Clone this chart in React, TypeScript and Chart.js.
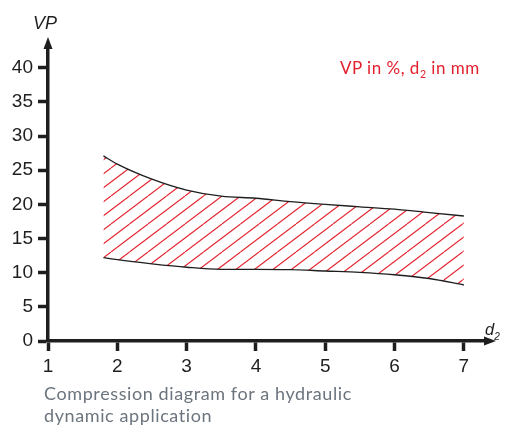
import React, { useEffect, useRef } from "react";
import { Chart, registerables } from "chart.js";

Chart.register(...registerables);

// Nozzle diameter d2 (mm) and compression VP (%) bounds
const diameters = [1.8, 2, 2.5, 3, 3.5, 4, 4.5, 5, 5.5, 6, 6.5, 7];
const upperVP = [27.1, 25.9, 23.7, 22.1, 21.2, 20.9, 20.4, 20.0, 19.65, 19.3, 18.8, 18.3];
const lowerVP = [12.2, 11.9, 11.3, 10.8, 10.5, 10.5, 10.45, 10.25, 10.05, 9.7, 9.15, 8.2];
const xTickValues = [1, 2, 3, 4, 5, 6, 7];
const yTickValues = [0, 5, 10, 15, 20, 25, 30, 35, 40];

const AXIS = "#1e1e1e";
const RED = "#e3202d";

function makeHatch(ctx: CanvasRenderingContext2D) {
  const W = 37;
  const H = 28;
  const tile = document.createElement("canvas");
  tile.width = W;
  tile.height = H;
  const g = tile.getContext("2d")!;
  g.strokeStyle = RED;
  g.lineWidth = 1.1;
  for (const x0 of [-37, -18.5, 0, 18.5, 37]) {
    g.beginPath();
    g.moveTo(x0, H);
    g.lineTo(x0 + W, 0);
    g.stroke();
  }
  return ctx.createPattern(tile, "repeat");
}

const arrowPlugin = {
  id: "axisArrows",
  afterDraw(chart: any) {
    const { ctx, chartArea: a } = chart;
    ctx.save();
    ctx.fillStyle = AXIS;
    ctx.beginPath();
    ctx.moveTo(a.left, a.top - 11);
    ctx.lineTo(a.left - 4.5, a.top + 1);
    ctx.lineTo(a.left + 4.5, a.top + 1);
    ctx.closePath();
    ctx.fill();
    ctx.beginPath();
    ctx.moveTo(a.right + 10, a.bottom);
    ctx.lineTo(a.right - 2, a.bottom - 4.5);
    ctx.lineTo(a.right - 2, a.bottom + 4.5);
    ctx.closePath();
    ctx.fill();
    ctx.restore();
  },
};

export default function App() {
  const ref = useRef<HTMLCanvasElement | null>(null);

  useEffect(() => {
    const canvas = ref.current!;
    const ctx = canvas.getContext("2d")!;
    const hatch = makeHatch(ctx);
    const tickFont = { family: "'Liberation Sans', Arial, sans-serif", size: 19 };
    const chart = new Chart(canvas, {
      type: "line",
      data: {
        datasets: [
          {
            label: "lower",
            data: diameters.map((d, i) => ({ x: d, y: lowerVP[i] })),
            borderColor: AXIS,
            borderWidth: 1.3,
            pointRadius: 0,
            cubicInterpolationMode: "monotone",
            fill: false,
          },
          {
            label: "upper",
            data: diameters.map((d, i) => ({ x: d, y: upperVP[i] })),
            borderColor: AXIS,
            borderWidth: 1.3,
            pointRadius: 0,
            cubicInterpolationMode: "monotone",
            fill: "-1",
            backgroundColor: hatch as any,
          },
        ],
      },
      options: {
        responsive: false,
        animation: false,
        layout: { padding: { top: 48, right: 25, left: 0, bottom: 0 } },
        plugins: { legend: { display: false }, tooltip: { enabled: false } },
        scales: {
          x: {
            type: "linear",
            min: 1,
            max: 7.32,
            afterBuildTicks: (s: any) => {
              s.ticks = xTickValues.map((v) => ({ value: v }));
            },
            afterFit: (s: any) => {
              s.height = 86;
            },
            ticks: { color: AXIS, font: tickFont, padding: 4, maxRotation: 0, autoSkip: false },
            grid: {
              display: true,
              drawOnChartArea: false,
              drawTicks: true,
              tickLength: 10,
              tickWidth: 3.5,
              tickColor: AXIS,
            },
            border: { display: true, color: AXIS, width: 3.5 },
          },
          y: {
            type: "linear",
            min: 0,
            max: 42.9,
            afterBuildTicks: (s: any) => {
              s.ticks = yTickValues.map((v) => ({ value: v }));
            },
            afterFit: (s: any) => {
              s.width = 48;
            },
            ticks: { color: AXIS, font: tickFont, padding: 5, autoSkip: false },
            grid: {
              display: true,
              drawOnChartArea: false,
              drawTicks: true,
              tickLength: 10,
              tickWidth: 3.5,
              tickColor: AXIS,
            },
            border: { display: true, color: AXIS, width: 3.5 },
          },
        },
      },
      plugins: [arrowPlugin],
    });
    return () => chart.destroy();
  }, []);

  return (
    <div style={{ position: "absolute", left: 0, top: 0, width: 511, height: 427, background: "#fff" }}>
      <canvas ref={ref} width={511} height={427} style={{ display: "block" }} />
      <div
        style={{
          position: "absolute",
          left: 33,
          top: 14,
          fontFamily: "'Liberation Sans', Arial, sans-serif",
          fontStyle: "italic",
          fontSize: 18,
          lineHeight: 1,
          color: AXIS,
        }}
      >
        VP
      </div>
      <div
        style={{
          position: "absolute",
          left: 485,
          top: 321,
          fontFamily: "'Liberation Sans', Arial, sans-serif",
          fontStyle: "italic",
          fontSize: 16.5,
          lineHeight: 1,
          color: AXIS,
        }}
      >
        d<sub style={{ fontSize: 10, verticalAlign: -5 }}>2</sub>
      </div>
      <div
        style={{
          position: "absolute",
          left: 340,
          top: 59,
          fontFamily: "Lato, sans-serif",
          fontSize: 17,
          letterSpacing: 0.5,
          lineHeight: 1,
          color: RED,
          whiteSpace: "nowrap",
        }}
      >
        VP in %, d<sub style={{ fontSize: 10.5, verticalAlign: -4 }}>2</sub> in mm
      </div>
      <div
        style={{
          position: "absolute",
          left: 44,
          top: 382,
          fontFamily: "Lato, sans-serif",
          fontSize: 18,
          letterSpacing: 0.6,
          lineHeight: "22.4px",
          color: "#6c747e",
        }}
      >
        Compression diagram for a hydraulic
        <br />
        dynamic application
      </div>
    </div>
  );
}
